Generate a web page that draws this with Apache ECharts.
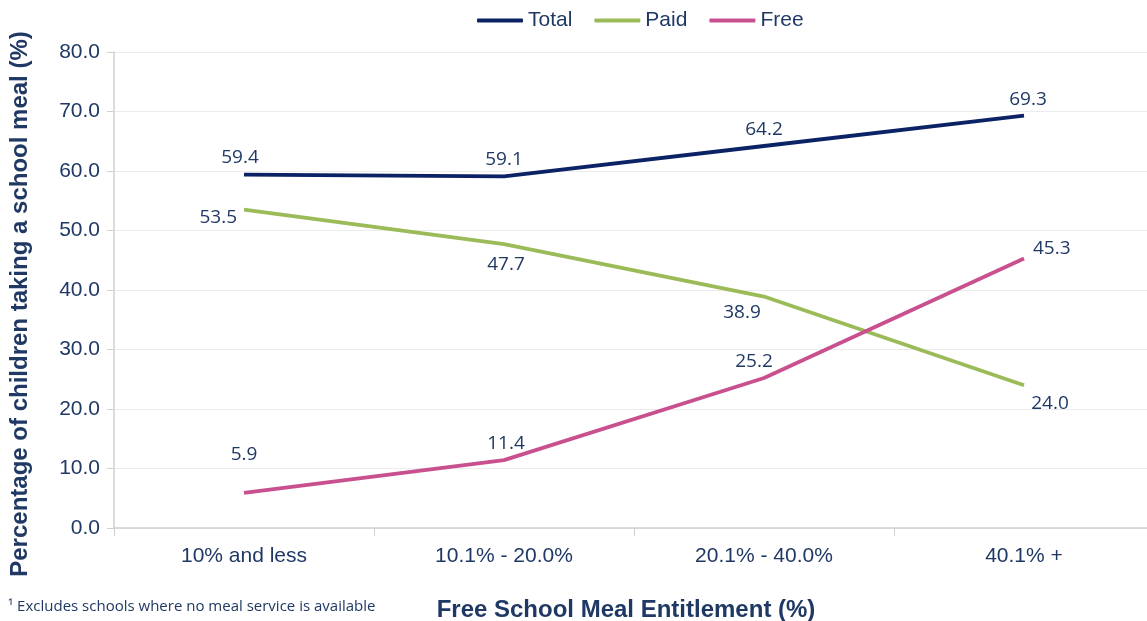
<!DOCTYPE html>
<html>
<head>
<meta charset="utf-8">
<script src="https://cdn.jsdelivr.net/npm/echarts@6/dist/echarts.min.js"></script>
<style>
  html, body { margin: 0; padding: 0; background: #fff; }
  #chart { width: 1147px; height: 621px; }
</style>
</head>
<body>
<div id="chart"></div>
<script>
const categories = ['10% and less', '10.1% - 20.0%', '20.1% - 40.0%', '40.1% +'];
const totalValues = [59.4, 59.1, 64.2, 69.3];
const paidValues = [53.5, 47.7, 38.9, 24.0];
const freeValues = [5.9, 11.4, 25.2, 45.3];
const yTicks = [0, 10, 20, 30, 40, 50, 60, 70, 80];

// label placement per point (position, [dx, dy])
const totalLabelPos = [['top', [-4, -2]], ['top', [0, -2]], ['top', [0, -2]], ['top', [4, -2]]];
const paidLabelPos = [['left', [-2, 8]], ['bottom', [2, 6]], ['bottom', [-22, 2]], ['bottom', [26, 4]]];
const freeLabelPos = [['top', [0, -24]], ['top', [2, -2]], ['top', [-10, -2]], ['right', [4, -10]]];

const textColor = '#1f3864';

function buildData(values, positions) {
  return values.map((v, i) => ({
    value: v,
    label: { position: positions[i][0], offset: positions[i][1] }
  }));
}

const chart = echarts.init(document.getElementById('chart'));

const lineSeries = (name, color, values, positions) => ({
  name: name,
  type: 'line',
  data: buildData(values, positions),
  symbol: 'circle',
  symbolSize: 0,
  showSymbol: true,
  lineStyle: { color: color, width: 3.8 },
  itemStyle: { color: color },
  label: {
    show: true,
    color: textColor,
    fontFamily: 'Open Sans',
    fontSize: 19,
    formatter: p => p.value.toFixed(1)
  }
});

chart.setOption({
  animation: false,
  legend: {
    top: 5,
    left: 472,
    itemWidth: 46,
    itemHeight: 4,
    itemGap: 22,
    icon: 'roundRect',
    textStyle: { color: textColor, fontFamily: 'Liberation Sans', fontSize: 21 },
    data: ['Total', 'Paid', 'Free']
  },
  grid: { left: 114, top: 52, width: 1040, height: 476, outerBoundsMode: 'none', containLabel: false },
  xAxis: {
    type: 'category',
    data: categories,
    boundaryGap: true,
    name: 'Free School Meal Entitlement (%)',
    nameLocation: 'middle',
    nameGap: 70,
    nameTextStyle: { color: textColor, fontFamily: 'Liberation Sans', fontWeight: 'bold', fontSize: 24, padding: [0, 0, 0, -16] },
    axisLine: { lineStyle: { color: '#d0d0d0', width: 1.5 } },
    axisTick: { show: true, length: 8, lineStyle: { color: '#d0d0d0' } },
    axisLabel: { color: textColor, fontFamily: 'Liberation Sans', fontSize: 21, margin: 18 }
  },
  yAxis: {
    type: 'value',
    min: yTicks[0],
    max: yTicks[yTicks.length - 1],
    interval: 10,
    name: 'Percentage of children taking a school meal (%)',
    nameLocation: 'middle',
    nameGap: 82,
    nameRotate: 90,
    nameTextStyle: { color: textColor, fontFamily: 'Liberation Sans', fontWeight: 'bold', fontSize: 24, padding: [0, 28, 0, 0] },
    axisLine: { show: true, lineStyle: { color: '#d0d0d0', width: 1.5 } },
    axisTick: { show: true, length: 7, lineStyle: { color: '#d0d0d0' } },
    splitLine: { show: true, lineStyle: { color: '#ececec', width: 1 } },
    axisLabel: { color: textColor, fontFamily: 'Liberation Sans', fontSize: 21, margin: 14, formatter: v => v.toFixed(1) }
  },
  graphic: [{
    type: 'text',
    left: 8,
    top: 599,
    style: {
      text: '\u00b9 Excludes schools where no meal service is available',
      fill: textColor,
      font: '15px "Open Sans"'
    }
  }],
  series: [
    lineSeries('Total', '#0b2265', totalValues, totalLabelPos),
    lineSeries('Paid', '#9bbb59', paidValues, paidLabelPos),
    lineSeries('Free', '#c9508f', freeValues, freeLabelPos)
  ]
});
</script>
</body>
</html>
